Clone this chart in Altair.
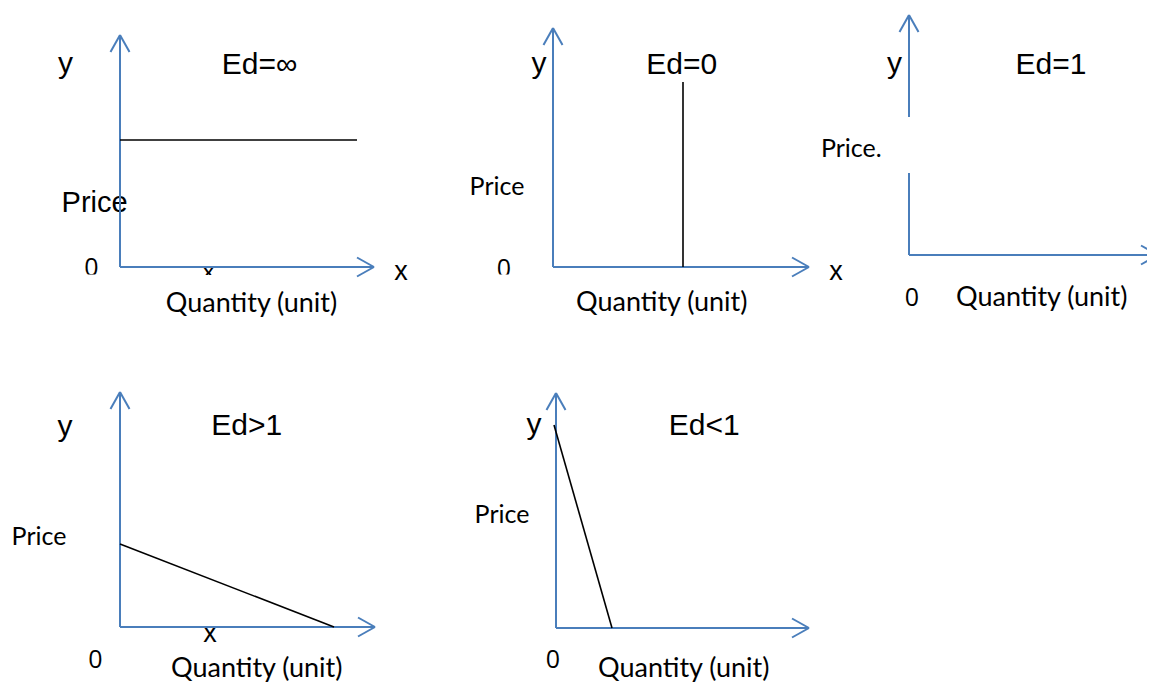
import altair as alt
import pandas as pd

# ---------------- content ----------------
titles = ["Ed=∞", "Ed=0", "Ed=1", "Ed>1", "Ed<1"]
y_axis_labels = ["y", "y", "y", "y", "y"]
price_labels = ["Price", "Price", "Price.", "Price", "Price"]
quantity_labels = ["Quantity (unit)"] * 5
zero_labels = ["0"] * 5
x_axis_labels = ["x", "x", None, "x", None]
x_under_labels = ["x", None, None, None, None]

# demand curves: (quantity, price) end points, measured from each panel's origin
curve_q = [[0, 237], [130, 130], [], [0, 214], [-2, 56]]
curve_p = [[127, 127], [0, 185], [], [83, 0], [203, 0]]

# ---------------- layout ----------------
origins = [(120, 267), (553, 267), (909, 255), (120, 627), (556, 628)]
x_len = [254, 256, 249, 255, 253]
y_len = [232, 239, 240, 235, 235]
y_gap = [None, None, (82, 138), None, None]

# label anchors (center x, baseline y)
title_pos = [(259.5, 74), (681.7, 74), (1051, 74), (246.7, 435), (704.3, 435)]
ylab_pos = [(65.5, 73), (539, 73), (894.5, 73), (65, 436), (534, 434)]
price_pos = [(94.6, 212), (497, 195), (851.3, 157.3), (39, 545), (502, 523)]
price_font = ["arial", "cal", "cal", "cal", "cal"]
qty_pos = [(251.5, 312), (661.7, 311), (1041.7, 306), (256.7, 677), (683.7, 677)]
zero_pos = [(91.5, 276), (504, 277), (912, 306), (95.5, 668), (553, 668)]
xlab_pos = [(401, 280), (836, 280), None, (210, 642), None]
xunder_pos = [(208.5, 279), None, None, None, None]
masks = [(82, 101, 274.5, 284), (494, 514, 274.5, 284), (196, 222, 275, 289)]

AXIS_BLUE = "#4a7ebb"
ARIAL = "Liberation Sans"
CALIBRI = "Lato"
DIGITS = "Open Sans"

segs = []
def seg(x, y, x2, y2, c, w):
    segs.append(dict(x=x, y=y, x2=x2, y2=y2, c=c, w=w))

for i, (ox, oy) in enumerate(origins):
    top = oy - y_len[i]
    right = ox + x_len[i]
    if y_gap[i] is None:
        seg(ox, oy, ox, top, AXIS_BLUE, 2)
    else:
        g0, g1 = y_gap[i]
        seg(ox, oy, ox, oy - g0, AXIS_BLUE, 2)
        seg(ox, oy - g1, ox, top, AXIS_BLUE, 2)
    seg(ox, oy, right, oy, AXIS_BLUE, 2)
    # open arrow heads
    seg(ox, top, ox - 9.5, top + 17, AXIS_BLUE, 2)
    seg(ox, top, ox + 9.5, top + 17, AXIS_BLUE, 2)
    seg(right, oy, right - 17, oy - 9.5, AXIS_BLUE, 2)
    seg(right, oy, right - 17, oy + 9.5, AXIS_BLUE, 2)
    # demand curve
    if curve_q[i]:
        (q0, q1), (p0, p1) = curve_q[i], curve_p[i]
        seg(ox + q0, oy - p0, ox + q1, oy - p1, "black", 1.6)

arial_txt, cal_txt, dig_txt = [], [], []
for i in range(5):
    arial_txt.append(dict(t=titles[i], x=title_pos[i][0], y=title_pos[i][1], s=30))
    arial_txt.append(dict(t=y_axis_labels[i], x=ylab_pos[i][0], y=ylab_pos[i][1], s=30))
    d = dict(t=price_labels[i], x=price_pos[i][0], y=price_pos[i][1])
    if price_font[i] == "arial":
        d["s"] = 29
        arial_txt.append(d)
    else:
        d["s"] = 25
        cal_txt.append(d)
    cal_txt.append(dict(t=quantity_labels[i], x=qty_pos[i][0], y=qty_pos[i][1], s=27))
    dig_txt.append(dict(t=zero_labels[i], x=zero_pos[i][0], y=zero_pos[i][1], s=25))
    if x_axis_labels[i]:
        arial_txt.append(dict(t=x_axis_labels[i], x=xlab_pos[i][0], y=xlab_pos[i][1], s=27))
    if x_under_labels[i]:
        cal_txt.append(dict(t=x_under_labels[i], x=xunder_pos[i][0], y=xunder_pos[i][1], s=24))

seg_df = pd.DataFrame(segs)
arial_df = pd.DataFrame(arial_txt)
cal_df = pd.DataFrame(cal_txt)
dig_df = pd.DataFrame(dig_txt)
mask_df = pd.DataFrame(masks, columns=["x", "x2", "y", "y2"])

W, H = 1139, 675
xs = alt.Scale(domain=[8, 8 + W], nice=False, zero=False)
ys = alt.Scale(domain=[8, 8 + H], nice=False, zero=False, reverse=True)

X = lambda f: alt.X(f, type="quantitative", scale=xs, axis=None)
Y = lambda f: alt.Y(f, type="quantitative", scale=ys, axis=None)

def text_layer(df, font):
    return alt.Chart(df).mark_text(font=font, align="center", baseline="alphabetic", color="black").encode(
        x=X("x"), y=Y("y"), text="t:N", size=alt.Size("s:Q", scale=None))

mask = alt.Chart(mask_df).mark_rect(color="white").encode(x=X("x"), x2="x2", y=Y("y"), y2="y2")
rules = alt.Chart(seg_df).mark_rule().encode(
    x=X("x"), y=Y("y"), x2="x2", y2="y2",
    color=alt.Color("c:N", scale=None), strokeWidth=alt.StrokeWidth("w:Q", scale=None))

chart = alt.layer(text_layer(arial_df, ARIAL), text_layer(cal_df, CALIBRI), text_layer(dig_df, DIGITS),
                  mask, rules).properties(
    width=W, height=H, padding=0, autosize=alt.AutoSizeParams(type="none"), background="white"
).configure_view(stroke=None)

chart.save("out.html", embed_options={"renderer": "svg", "actions": False})
